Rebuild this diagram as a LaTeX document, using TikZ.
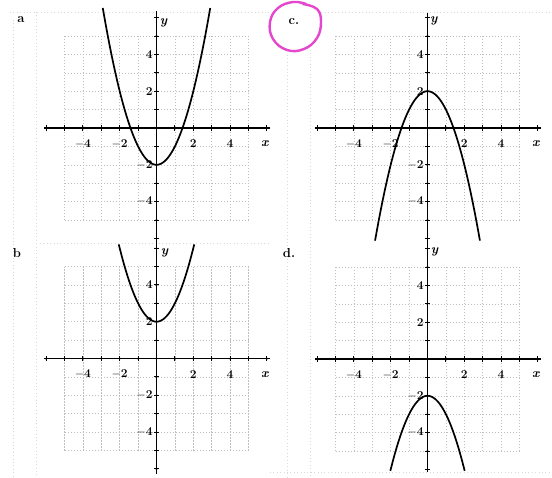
\documentclass[tikz,border=0pt]{standalone}
\definecolor{penpink}{RGB}{228,70,205}
\tikzset{
  gridline/.style={gray!50, line width=0.55pt, dash pattern=on 1.2pt off 1.8pt},
  framel/.style={gray!30, line width=0.6pt, dash pattern=on 1pt off 2.4pt},
  axisline/.style={black, line width=1.5pt},
  tickm/.style={black, line width=1pt},
  curve/.style={black, line width=1.7pt},
  lbl/.style={font=\fontsize{13}{14}\selectfont\bfseries, inner sep=0pt},
  plabel/.style={font=\fontsize{13}{14}\selectfont\bfseries, inner sep=0pt},
}
\newcommand{\panelaxes}[3]{%
  \foreach \k in {-5,...,5} {
    \draw[gridline] (\k,-5) -- (\k,5);
    \draw[gridline] (-5,\k) -- (5,\k);
  }
  \coordinate (#1xl) at (-6.1,0);
  \coordinate (#1xr) at (6.15,0);
  \coordinate (#1yt) at (0,#2);
  \coordinate (#1yb) at (0,#3);
  \draw[axisline] (#1xl) -- (#1xr);
  \draw[axisline] (#1yb) -- (#1yt);
  \foreach \k in {-6,...,6} {
    \draw[tickm] (\k,-0.14) -- (\k,0.14);
    \fill (\k,0) circle (1.1pt);
    \draw[tickm] (-0.14,\k) -- (0.14,\k);
    \fill (0,\k) circle (1.1pt);
  }
  \foreach \v in {-4,-2,2,4} {
    \node[lbl] (#1x\v) at (\v,-0.85) {$\mathbf{\v}$};
    \node[lbl, anchor=east] (#1y\v) at (-0.2,\v) {$\mathbf{\v}$};
  }
  \node[lbl] (#1xname) at (5.9,-0.85) {\textit{x}};
}
\begin{document}
\begin{tikzpicture}[x=1pt, y=-1pt]
\useasboundingbox (0,0) rectangle (552,477);
\fill[white] (0,0) rectangle (552,477);
% faint frame lines of the scanned page
\draw[framel] (10,12) -- (272,12);
\draw[framel] (318,12) -- (552,12);
\draw[framel] (36,12) -- (36,477);
\draw[framel] (13,20) -- (13,477);
\draw[framel] (310,50) -- (310,477);
\draw[framel] (287,55) -- (287,477);
\draw[framel] (270,472) -- (552,472);
\draw[framel] (40,243) -- (270,243);
% panel a
\begin{scope}[shift={(156.5,128)}, x=18.4pt, y=18.4pt]
  \panelaxes{a}{6.35}{-6.1}
  \node[lbl] (ayname) at (0.4,5.7) {\textit{y}};
  \draw[curve] plot[domain=-2.92:2.92, samples=60] (\x, {\x*\x-2});
\end{scope}
% panel c
\begin{scope}[shift={(427.5,128)}, x=18.4pt, y=18.4pt]
  \panelaxes{c}{6.25}{-6.1}
  \node[lbl] (cyname) at (0.35,5.8) {\textit{y}};
  \draw[curve] plot[domain=-2.85:2.85, samples=60] (\x, {2-\x*\x});
\end{scope}
% panel b
\begin{scope}[shift={(156.5,358.5)}, x=18.4pt, y=18.4pt]
  \panelaxes{b}{6.5}{-6.25}
  \node[lbl] (byname) at (0.45,5.73) {\textit{y}};
  \draw[curve] plot[domain=-2.05:2.05, samples=60] (\x, {\x*\x+2});
\end{scope}
% panel d
\begin{scope}[shift={(427.5,359)}, x=18.4pt, y=18.4pt]
  \panelaxes{d}{6.5}{-6.15}
  \node[lbl] (dyname) at (0.4,5.8) {\textit{y}};
  \draw[curve] plot[domain=-2.02:2.02, samples=60] (\x, {-\x*\x-2});
\end{scope}
% panel letters
\node[plabel] (la) at (21,20) {a};
\node[plabel] (lc) at (294,22) {c.};
\node[plabel] (lb) at (17,253) {b};
\node[plabel] (ld) at (289,253) {d.};
% hand-drawn circle round c
\draw[penpink, line width=2.4pt, line cap=round]
  plot[smooth, tension=0.7] coordinates {(306,4) (293,2) (278,8) (270,22) (273,39) (287,50) (304,49) (317,38) (321,22) (317,9) (303,4)};
\end{tikzpicture}
\end{document}
